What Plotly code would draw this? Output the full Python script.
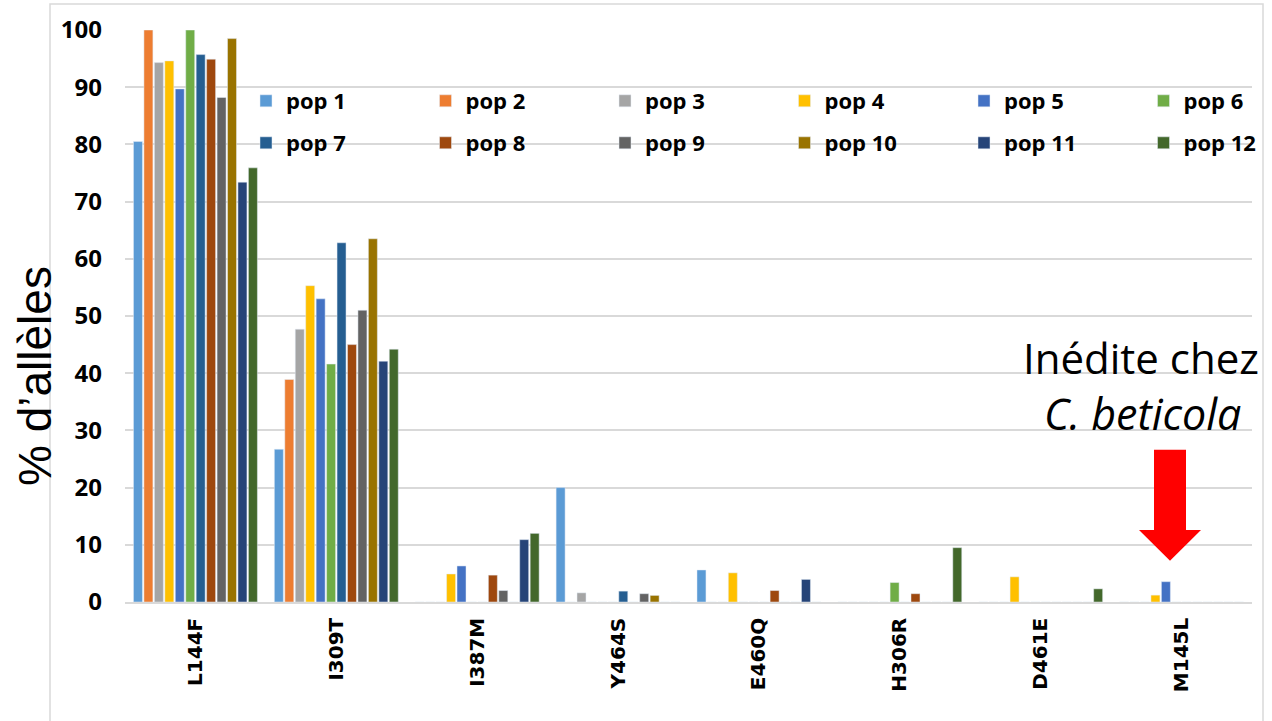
import plotly.graph_objects as go

mutations = ['L144F', 'I309T', 'I387M', 'Y464S', 'E460Q', 'H306R', 'D461E', 'M145L']
pops = ['pop %d' % i for i in range(1, 13)]
colors = ['#5B9BD5', '#ED7D31', '#A5A5A5', '#FFC000', '#4472C4', '#70AD47',
          '#255E91', '#9E480E', '#636363', '#997300', '#264478', '#43682B']

# % d'allèles per population, one list per mutation (pop 1 .. pop 12)
l144f = [80.5, 100, 94.3, 94.6, 89.7, 100, 95.7, 94.9, 88.2, 98.5, 73.4, 75.9]
i309t = [26.7, 38.9, 47.7, 55.3, 53.0, 41.6, 62.8, 45.0, 51.0, 63.5, 42.1, 44.2]
i387m = [0, 0, 0, 4.9, 6.3, 0, 0, 4.7, 2.0, 0, 10.9, 12.0]
y464s = [20.0, 0, 1.6, 0, 0, 0, 1.9, 0, 1.45, 1.15, 0, 0]
e460q = [5.6, 0, 0, 5.1, 0, 0, 0, 2.0, 0, 0, 3.95, 0]
h306r = [0, 0, 0, 0, 0, 3.4, 0, 1.45, 0, 0, 0, 9.5]
d461e = [0, 0, 0, 4.4, 0, 0, 0, 0, 0, 0, 0, 2.3]
m145l = [0, 0, 0, 1.2, 3.55, 0, 0, 0, 0, 0, 0, 0]
table = [l144f, i309t, i387m, y464s, e460q, h306r, d461e, m145l]

W, H = 1272, 721
L, R, T, B = 125, 20, 30, 119
pw, ph = W - L - R, H - T - B

def px_x(p):
    return (p - L) / pw

def px_y(p):
    return 1 - (p - T) / ph

fig = go.Figure()
legends = {}
for k, name in enumerate(pops):
    key = 'legend' if k == 0 else 'legend%d' % (k + 1)
    fig.add_trace(go.Bar(
        x=mutations,
        y=[row[k] for row in table],
        name=name,
        marker_color=colors[k],
        legend=key,
    ))
    # 2 rows x 6 columns legend grid
    col, row = k % 6, k // 6
    legends[key] = dict(
        x=px_x(246 + col * 179.5), xanchor='left',
        y=px_y(101 + row * 42), yanchor='middle',
        bgcolor='rgba(0,0,0,0)',
        font=dict(family='Open Sans', size=22, color='#000000', weight='bold'),
        itemwidth=30,
    )

fig.update_layout(
    width=W, height=H,
    barmode='group',
    bargap=0.11,
    bargroupgap=0.14,
    plot_bgcolor='white',
    paper_bgcolor='white',
    showlegend=True,
    margin=dict(l=L, r=R, t=T, b=B, autoexpand=False),
    **legends,
)

fig.update_xaxes(
    type='category',
    tickangle=-90,
    tickfont=dict(family='DejaVu Sans', size=20, color='#000000', weight='bold'),
    showline=True, linecolor='#D9D9D9', linewidth=1.5,
    ticks='', ticklabelstandoff=6,
    showgrid=False,
)

fig.update_yaxes(
    range=[0, 100],
    dtick=10,
    tickfont=dict(family='Open Sans', size=24, color='#000000', weight='bold'),
    gridcolor='#D9D9D9', gridwidth=1.5,
    zeroline=False,
    ticks='', ticklabelstandoff=22,
)

# y axis title
fig.add_annotation(
    text='% d’allèles', textangle=-90,
    xref='paper', yref='paper', x=px_x(35), y=px_y(376),
    xanchor='center', yanchor='middle',
    showarrow=False,
    font=dict(family='Liberation Sans', size=46, color='#000000'),
)

# note above the new mutation
fig.add_annotation(
    text='Inédite chez', xref='paper', yref='paper',
    x=px_x(1141), y=px_y(357), xanchor='center', yanchor='middle',
    showarrow=False,
    font=dict(family='Open Sans', size=42, color='#000000'),
)
fig.add_annotation(
    text='<i>C. beticola</i>', xref='paper', yref='paper',
    x=px_x(1142), y=px_y(413), xanchor='center', yanchor='middle',
    showarrow=False,
    font=dict(family='Open Sans', size=43, color='#000000'),
)

# red block arrow pointing to M145L
cx = px_x(1170)
sw, hw = 16 / pw, 31 / pw
top, base, tip = 26.6, 12.6, 7.2
fig.add_shape(
    type='path', xref='paper', yref='y',
    path=(f'M {cx - sw} {top} L {cx + sw} {top} L {cx + sw} {base} '
          f'L {cx + hw} {base} L {cx} {tip} L {cx - hw} {base} '
          f'L {cx - sw} {base} Z'),
    fillcolor='#FF0000', line=dict(width=0),
)

# light frame of the chart area
fig.add_shape(
    type='rect', xref='paper', yref='paper',
    x0=px_x(50), x1=px_x(1263), y0=px_y(722), y1=px_y(4),
    line=dict(color='#D9D9D9', width=1.5), fillcolor='rgba(0,0,0,0)',
    layer='below',
)

fig.write_html('out.html', config={'displayModeBar': False},
               post_script="document.body.style.margin='0px';")
